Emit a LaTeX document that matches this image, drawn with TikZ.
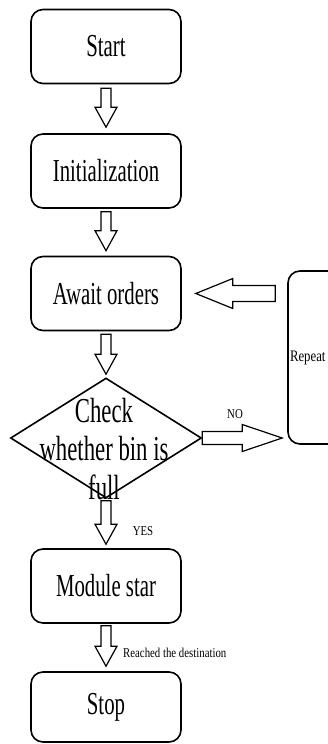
\documentclass[tikz,border=0pt]{standalone}
\usepackage{fontspec}
\newfontfamily\boxfont[FakeStretch=0.65]{Liberation Serif}
\newfontfamily\notefont[FakeStretch=0.8]{Liberation Serif}
\usetikzlibrary{shapes.geometric, calc, positioning}

% hollow block arrows between nodes
\tikzset{
  ba gap1/.store in=\bagapa, ba gap2/.store in=\bagapb,
  ba shaft/.store in=\bashaft, ba head/.store in=\bahead,
  ba len/.store in=\balen,
  ba gap1=3pt, ba gap2=5pt, ba shaft=5pt, ba head=11pt, ba len=20pt,
  blockarrow/.style={draw, line width=1.2pt, fill=white, line join=miter,
    to path={
      ($(\tikztostart)!\bagapa!(\tikztotarget)!\bashaft!90:(\tikztotarget)$)
      -- ($(\tikztotarget)!\bagapb+\balen!(\tikztostart)!\bashaft!90:(\tikztotarget)$)
      -- ($(\tikztotarget)!\bagapb+\balen!(\tikztostart)!\bahead!90:(\tikztotarget)$)
      -- ($(\tikztotarget)!\bagapb!(\tikztostart)$)
      -- ($(\tikztotarget)!\bagapb+\balen!(\tikztostart)!\bahead!-90:(\tikztotarget)$)
      -- ($(\tikztotarget)!\bagapb+\balen!(\tikztostart)!\bashaft!-90:(\tikztotarget)$)
      -- ($(\tikztostart)!\bagapa!(\tikztotarget)!\bashaft!-90:(\tikztotarget)$)
      -- cycle}}
}

\begin{document}
\begin{tikzpicture}[x=1pt, y=-1pt,
    box/.style={draw, line width=1.6pt, rounded corners=12pt,
                minimum width=150pt, minimum height=74pt, inner sep=0pt,
                font=\boxfont\fontsize{32}{36}\selectfont},
    decision/.style={draw, diamond, line width=1.6pt,
                     minimum width=191pt, minimum height=120pt, inner sep=0pt},
    checktext/.style={font=\boxfont\fontsize{35}{38.5}\selectfont,
                      align=center, inner sep=0pt},
    repeatbox/.style={draw, line width=1.6pt, rounded corners=12pt,
                      minimum width=60pt, minimum height=173pt,
                      text width=56pt, inner xsep=2pt, align=left,
                      font=\notefont\fontsize{16}{18}\selectfont},
    note/.style={font=\notefont\fontsize{13.5}{15}\selectfont, inner sep=0pt}
  ]
  \useasboundingbox (0,0) rectangle (328,744);

  \node[box] (startbox) at (106,46.5) {Start};
  \node[box] (initbox) at (106,171) {Initialization};
  \node[box] (awaitbox) at (106,293.5) {Await orders};
  \node[decision] (check) at (106,438) {};
  \node[checktext] (checktxt) at (104,449) {Check\\whether bin is\\full};
  \node[box] (modulebox) at (106,586) {Module star};
  \node[box, minimum height=70pt] (stopbox) at (106,707) {Stop};
  \node[repeatbox] (repeat) at (318,357.5) {Repeat};

  \node[note] (nolabel) at (235,414) {NO};
  \node[note] (yeslabel) at (143,531) {YES};
  \node[note, anchor=west] (reachlabel) at (123,653) {Reached the destination};

  \draw[blockarrow, ba gap1=4pt, ba gap2=6pt] (startbox.south) to (initbox.north);
  \draw[blockarrow] (initbox.south) to (awaitbox.north);
  \draw[blockarrow, ba gap2=3pt] (awaitbox.south) to (check.north);
  \draw[blockarrow, ba gap1=2pt, ba gap2=4pt] (check.south) to (modulebox.north);
  \draw[blockarrow, ba gap1=2pt] (modulebox.south) to (stopbox.north);
  \draw[blockarrow, ba gap1=12pt, ba gap2=14pt, ba shaft=8pt, ba head=15pt,
        ba len=37pt] (repeat.west |- awaitbox.east) to (awaitbox.east);
  \draw[blockarrow, ba gap1=0pt, ba gap2=5pt, ba shaft=6.5pt, ba head=13.5pt,
        ba len=40pt] (check.east) to (repeat.west |- check.east);
\end{tikzpicture}
\end{document}
